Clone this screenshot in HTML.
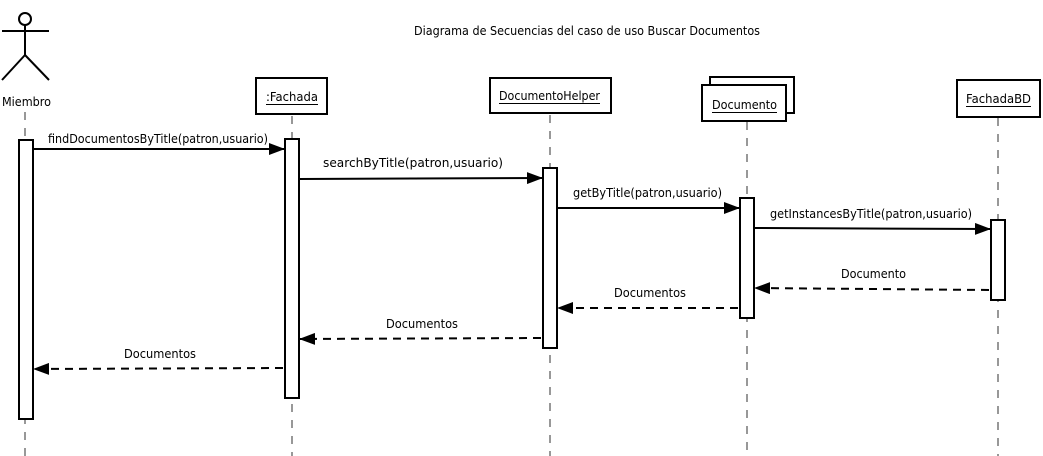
<!DOCTYPE html>
<html><head><meta charset="utf-8"><style>
html,body{margin:0;padding:0;background:#fff;}
svg{display:block;}
text{font-family:"DejaVu Sans","Liberation Sans",sans-serif;font-size:12.5px;fill:#000;}
</style></head><body>
<svg width="1043" height="456" viewBox="0 0 1043 456" xmlns="http://www.w3.org/2000/svg">
<defs>
<marker id="a" markerWidth="16" markerHeight="12" refX="16" refY="6" orient="auto" markerUnits="userSpaceOnUse">
<path d="M0,0 L16,6 L0,12 Z" fill="#000"/></marker>
</defs>
<text x="414" y="35" textLength="346" lengthAdjust="spacingAndGlyphs">Diagrama de Secuencias del caso de uso Buscar Documentos</text>
<g stroke="#000" stroke-width="2" fill="none">
<circle cx="25" cy="19" r="6" fill="#fff"/>
<line x1="25" y1="25" x2="25" y2="55"/>
<line x1="2" y1="31" x2="49" y2="31"/>
<line x1="25" y1="55" x2="2" y2="80"/>
<line x1="25" y1="55" x2="49" y2="80"/>
</g>
<text x="2" y="106" textLength="49" lengthAdjust="spacingAndGlyphs">Miembro</text>
<g stroke="#777" stroke-width="1.5" stroke-dasharray="8,8" fill="none">
<line x1="25" y1="112" x2="25" y2="456"/>
<line x1="292" y1="116" x2="292" y2="456"/>
<line x1="550" y1="115" x2="550" y2="456"/>
<line x1="747" y1="122" x2="747" y2="456"/>
<line x1="998" y1="118" x2="998" y2="456"/>
</g>
<g stroke="#000" stroke-width="2" fill="#fff">
<rect x="256" y="78" width="71" height="36"/>
<rect x="490" y="78" width="121" height="35"/>
<rect x="710" y="77" width="84" height="36"/>
<rect x="702" y="85" width="84" height="36"/>
<rect x="957" y="80" width="83" height="37"/>
</g>
<text x="266" y="101" textLength="52" lengthAdjust="spacingAndGlyphs">:Fachada</text><line x1="266" y1="104.5" x2="318" y2="104.5" stroke="#000"/>
<text x="499" y="100" textLength="101" lengthAdjust="spacingAndGlyphs">DocumentoHelper</text><line x1="499" y1="103.5" x2="600" y2="103.5" stroke="#000"/>
<text x="712" y="109" textLength="65" lengthAdjust="spacingAndGlyphs">Documento</text><line x1="712" y1="112.5" x2="777" y2="112.5" stroke="#000"/>
<text x="966" y="103" textLength="65" lengthAdjust="spacingAndGlyphs">FachadaBD</text><line x1="966" y1="106.5" x2="1031" y2="106.5" stroke="#000"/>
<g stroke="#000" stroke-width="2" fill="#fff">
<rect x="19" y="140" width="14" height="279"/>
<rect x="285" y="139" width="14" height="259"/>
<rect x="543" y="168" width="14" height="180"/>
<rect x="740" y="198" width="14" height="120"/>
<rect x="991" y="220" width="14" height="80"/>
</g>
<g stroke="#000" stroke-width="2" fill="none" marker-end="url(#a)">
<line x1="33" y1="149" x2="285" y2="149"/>
<line x1="299" y1="179" x2="543" y2="178"/>
<line x1="557" y1="208" x2="740" y2="208"/>
<line x1="754" y1="228" x2="991" y2="229"/>
</g>
<g stroke="#000" stroke-width="2" fill="none" stroke-dasharray="8,6" marker-end="url(#a)">
<line x1="989" y1="290" x2="754" y2="288"/>
<line x1="738" y1="308" x2="557" y2="308"/>
<line x1="541" y1="338" x2="299" y2="339"/>
<line x1="283" y1="368" x2="33" y2="369"/>
</g>
<text x="48" y="143" textLength="220" lengthAdjust="spacingAndGlyphs">findDocumentosByTitle(patron,usuario)</text>
<text x="323" y="167" textLength="180" lengthAdjust="spacingAndGlyphs">searchByTitle(patron,usuario)</text>
<text x="573" y="197" textLength="149" lengthAdjust="spacingAndGlyphs">getByTitle(patron,usuario)</text>
<text x="770" y="218" textLength="202" lengthAdjust="spacingAndGlyphs">getInstancesByTitle(patron,usuario)</text>
<text x="841" y="278" textLength="65" lengthAdjust="spacingAndGlyphs">Documento</text>
<text x="614" y="297" textLength="72" lengthAdjust="spacingAndGlyphs">Documentos</text>
<text x="386" y="328" textLength="72" lengthAdjust="spacingAndGlyphs">Documentos</text>
<text x="124" y="358" textLength="72" lengthAdjust="spacingAndGlyphs">Documentos</text>
</svg>
</body></html>
